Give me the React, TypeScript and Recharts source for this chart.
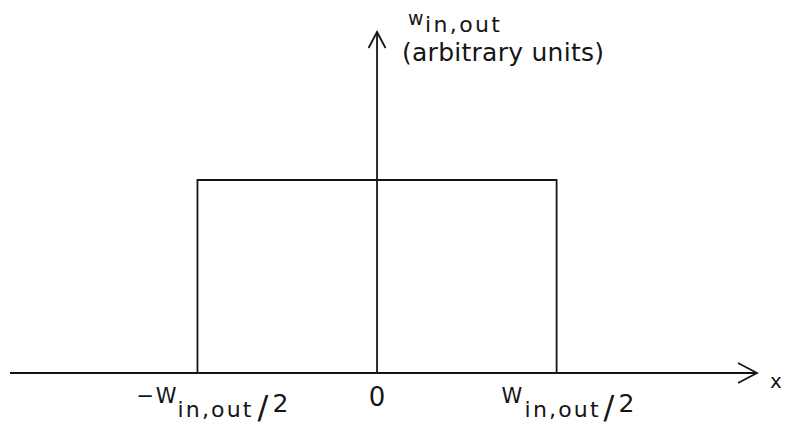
import React from "react";
import { LineChart, Line, XAxis, YAxis, ReferenceLine } from "recharts";

// top-hat profile: corners of the rectangle
const xPos = [-0.5, -0.5, 0.5, 0.5];
const weight = [0, 1, 1, 0];

// x-axis ticks and their labels (main part, subscript, divisor)
const tickValues = [-0.5, 0, 0.5];
const tickMain = ["\u2212W", "0", "W"];
const tickSub = ["in,out", "", "in,out"];
const tickDiv = ["2", "", "2"];

const yTitleSym = "w";
const yTitleSub = "in,out";
const yTitleUnits = "(arbitrary units)";
const xTitle = "x";

const data = xPos.map((x, i) => ({ x, w: weight[i] }));

const INK = "#151515";
const FONT = "'DejaVu Sans', sans-serif";

function WidthTick(props: any) {
  const { x, y, payload } = props;
  const i = tickValues.indexOf(payload.value);
  if (i < 0) return null;
  if (!tickSub[i]) {
    return (
      <text x={x} y={y + 33} textAnchor="middle" fontSize={26} fontFamily={FONT} fill={INK}>
        {tickMain[i]}
      </text>
    );
  }
  const left = payload.value < 0;
  const mainX = x + (left ? -61 : -55);
  const subX = x + (left ? -20 : -32);
  const slashX = x + (left ? 60 : 47);
  return (
    <g fontFamily={FONT} fill={INK}>
      <text x={mainX} y={y + 30} fontSize={21} textLength={left ? 40 : 21} lengthAdjust="spacing">
        {tickMain[i]}
      </text>
      <text x={subX} y={y + 44} fontSize={22} textLength={74} lengthAdjust="spacing">
        {tickSub[i]}
      </text>
      <text x={slashX} y={y + 45} fontSize={32}>
        /
      </text>
      <text x={slashX + 15} y={y + 39} fontSize={25}>
        {tickDiv[i]}
      </text>
    </g>
  );
}

export default function App() {
  return (
    <div style={{ position: "absolute", left: 0, top: 0, background: "#fff" }}>
      <LineChart width={786} height={430} data={data} margin={{ top: 32, right: 29, bottom: 0, left: 10 }}>
        <defs>
          <marker id="arrowRight" markerUnits="userSpaceOnUse" viewBox="0 0 22 22" refX={20} refY={11} markerWidth={22} markerHeight={22} orient="auto">
            <path d="M1,1 L20,11 L1,21" fill="none" stroke={INK} strokeWidth={1.8} />
          </marker>
          <marker id="arrowUp" markerUnits="userSpaceOnUse" viewBox="0 0 20 20" refX={17} refY={10} markerWidth={20} markerHeight={20} orient="auto">
            <path d="M1,1.5 L17,10 L1,18.5" fill="none" stroke={INK} strokeWidth={1.8} />
          </marker>
        </defs>
        <XAxis
          type="number"
          dataKey="x"
          domain={[-1.022, 1.058]}
          ticks={tickValues}
          interval={0}
          height={57}
          tickLine={false}
          tickSize={0}
          tickMargin={0}
          axisLine={{ stroke: INK, strokeWidth: 1.8, markerEnd: "url(#arrowRight)" }}
          tick={<WidthTick />}
        />
        <YAxis type="number" domain={[0, 1.767]} hide />
        <ReferenceLine x={0} stroke={INK} strokeWidth={1.8} markerEnd="url(#arrowUp)" />
        <Line
          type="linear"
          dataKey="w"
          stroke={INK}
          strokeWidth={1.8}
          strokeLinejoin="miter"
          dot={false}
          isAnimationActive={false}
        />
        <g fontFamily={FONT} fill={INK}>
          <text x={408} y={25} fontSize={19}>{yTitleSym}</text>
          <text x={425} y={32} fontSize={22} textLength={75} lengthAdjust="spacing">{yTitleSub}</text>
          <text x={402} y={61} fontSize={25} textLength={202} lengthAdjust="spacing">{yTitleUnits}</text>
          <text x={770} y={388} fontSize={20}>{xTitle}</text>
        </g>
      </LineChart>
    </div>
  );
}
